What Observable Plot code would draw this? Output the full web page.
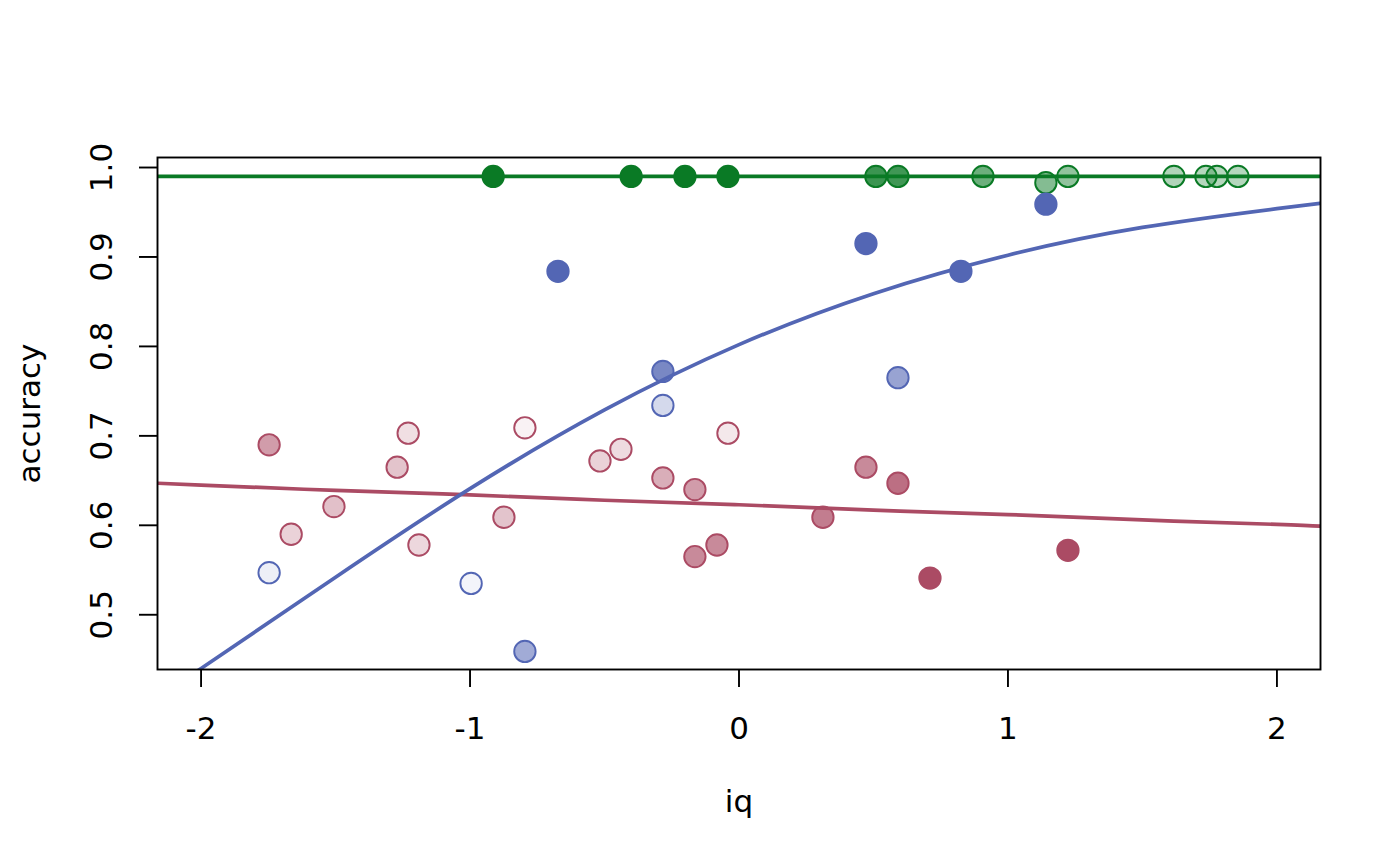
<!DOCTYPE html>
<html>
<head>
<meta charset="utf-8">
<script src="https://cdn.jsdelivr.net/npm/d3@7"></script>
<script src="https://cdn.jsdelivr.net/npm/@observablehq/plot@0.6"></script>
<style>
  html, body { margin: 0; padding: 0; background: white; }
  #chart svg { display: block; }
</style>
</head>
<body>
<div id="chart"></div>
<script>
// ---------- data ----------
const groups = ["green", "blue", "red"];
const groupColors = ["#0a7a25", "#5366b4", "#ab4b64"];

// green group
const greenX = [-0.914, -0.401, -0.201, -0.041, 0.509, 0.591, 0.907, 1.141, 1.223, 1.617, 1.736, 1.777, 1.855];
const greenY = [0.99, 0.99, 0.99, 0.99, 0.99, 0.99, 0.99, 0.983, 0.99, 0.99, 0.99, 0.99, 0.99];
const greenShade = [1, 1, 1, 1, 0.8, 0.78, 0.6, 0.5, 0.45, 0.32, 0.3, 0.3, 0.3];

// blue group
const blueX = [-0.673, 0.472, 0.825, 1.141, -0.283, -0.283, 0.591, -1.747, -0.996, -0.796];
const blueY = [0.884, 0.915, 0.884, 0.959, 0.772, 0.734, 0.765, 0.547, 0.535, 0.459];
const blueShade = [1, 1, 1, 1, 0.78, 0.25, 0.6, 0.1, 0.07, 0.55];

// red group
const redX = [-1.747, -1.665, -1.506, -1.271, -1.230, -1.190, -0.874, -0.796, -0.517, -0.439,
              -0.283, -0.164, -0.164, -0.082, -0.041, 0.312, 0.472, 0.591, 0.710, 1.223];
const redY = [0.690, 0.590, 0.621, 0.665, 0.703, 0.578, 0.609, 0.709, 0.672, 0.685,
              0.653, 0.640, 0.565, 0.578, 0.703, 0.609, 0.665, 0.647, 0.541, 0.572];
const redShade = [0.55, 0.25, 0.35, 0.33, 0.18, 0.22, 0.33, 0.07, 0.25, 0.2,
                  0.45, 0.55, 0.65, 0.65, 0.13, 0.72, 0.65, 0.8, 1, 1];

// fitted curves
const curveX = [-2.16, -2, -1.5, -1, -0.5, 0, 0.5, 1, 1.5, 2, 2.16];
const greenFitY = [0.99, 0.99, 0.99, 0.99, 0.99, 0.99, 0.99, 0.99, 0.99, 0.99, 0.99];
const blueFitY = [0.408, 0.440, 0.542, 0.641, 0.729, 0.802, 0.859, 0.902, 0.933, 0.954, 0.960];
const redFitY = [0.647, 0.645, 0.639, 0.634, 0.628, 0.623, 0.617, 0.612, 0.606, 0.601, 0.599];

// axes
const xTicks = [-2, -1, 0, 1, 2];
const yTicks = [0.5, 0.6, 0.7, 0.8, 0.9, 1.0];
const xLabel = "iq";
const yLabel = "accuracy";

// ---------- build tables ----------
const pts = [];
[[greenX, greenY, greenShade], [blueX, blueY, blueShade], [redX, redY, redShade]].forEach(([xs, ys, ss], gi) => {
  xs.forEach((x, i) => pts.push({x, y: ys[i], shade: ss[i], group: groups[gi]}));
});
const fits = [];
[greenFitY, blueFitY, redFitY].forEach((ys, gi) => {
  curveX.forEach((x, i) => fits.push({x, y: ys[i], group: groups[gi]}));
});
const colorOf = g => groupColors[groups.indexOf(g)];

const font = "DejaVu Sans, Verdana, sans-serif";
const fs = 31;

const chart = Plot.plot({
  width: 1400,
  height: 866,
  marginLeft: 157,
  marginRight: 80,
  marginTop: 157,
  marginBottom: 197,
  x: {domain: [-2.162, 2.162]},
  y: {domain: [0.4388, 1.0112]},
  style: {fontFamily: font, fontSize: fs + "px", background: "white", color: "black"},
  marks: [
    // fitted lines
    Plot.line(fits.filter(d => d.group === "red"), {x: "x", y: "y", stroke: colorOf("red"), strokeWidth: 3.7, curve: "natural", clip: true}),
    Plot.line(fits.filter(d => d.group === "blue"), {x: "x", y: "y", stroke: colorOf("blue"), strokeWidth: 3.7, curve: "natural", clip: true}),
    Plot.line(fits.filter(d => d.group === "green"), {x: "x", y: "y", stroke: colorOf("green"), strokeWidth: 3.7, clip: true}),
    // points
    Plot.dot(pts, {
      x: "x", y: "y", r: 10.7,
      fill: d => colorOf(d.group),
      fillOpacity: d => d.shade,
      stroke: d => colorOf(d.group),
      strokeWidth: 1.9
    }),
    // frame
    Plot.frame({stroke: "black", strokeWidth: 1.9}),
    // x axis
    Plot.axisX({
      ticks: xTicks, tickSize: 18, tickPadding: 29, strokeWidth: 1.9,
      tickFormat: d => String(d), label: null, fontSize: fs, fontVariant: "normal"
    }),
    // y axis ticks
    Plot.axisY({ticks: yTicks, tickSize: 18, strokeWidth: 1.9, tickFormat: () => "", label: null}),
    // y tick labels (rotated, like R's las = 0)
    Plot.text(yTicks, {
      y: d => d, text: d => d.toFixed(1), frameAnchor: "left", dx: -55,
      rotate: -90, textAnchor: "middle", lineAnchor: "middle", fontSize: fs, fill: "black"
    }),
    // axis titles
    Plot.text([xLabel], {frameAnchor: "bottom", dy: 133, text: d => d, textAnchor: "middle", lineAnchor: "middle", fontSize: fs, fill: "black"}),
    Plot.text([yLabel], {frameAnchor: "left", dx: -127, rotate: -90, text: d => d, textAnchor: "middle", lineAnchor: "middle", fontSize: fs, fill: "black"})
  ]
});
document.getElementById("chart").appendChild(chart);
</script>
</body>
</html>
